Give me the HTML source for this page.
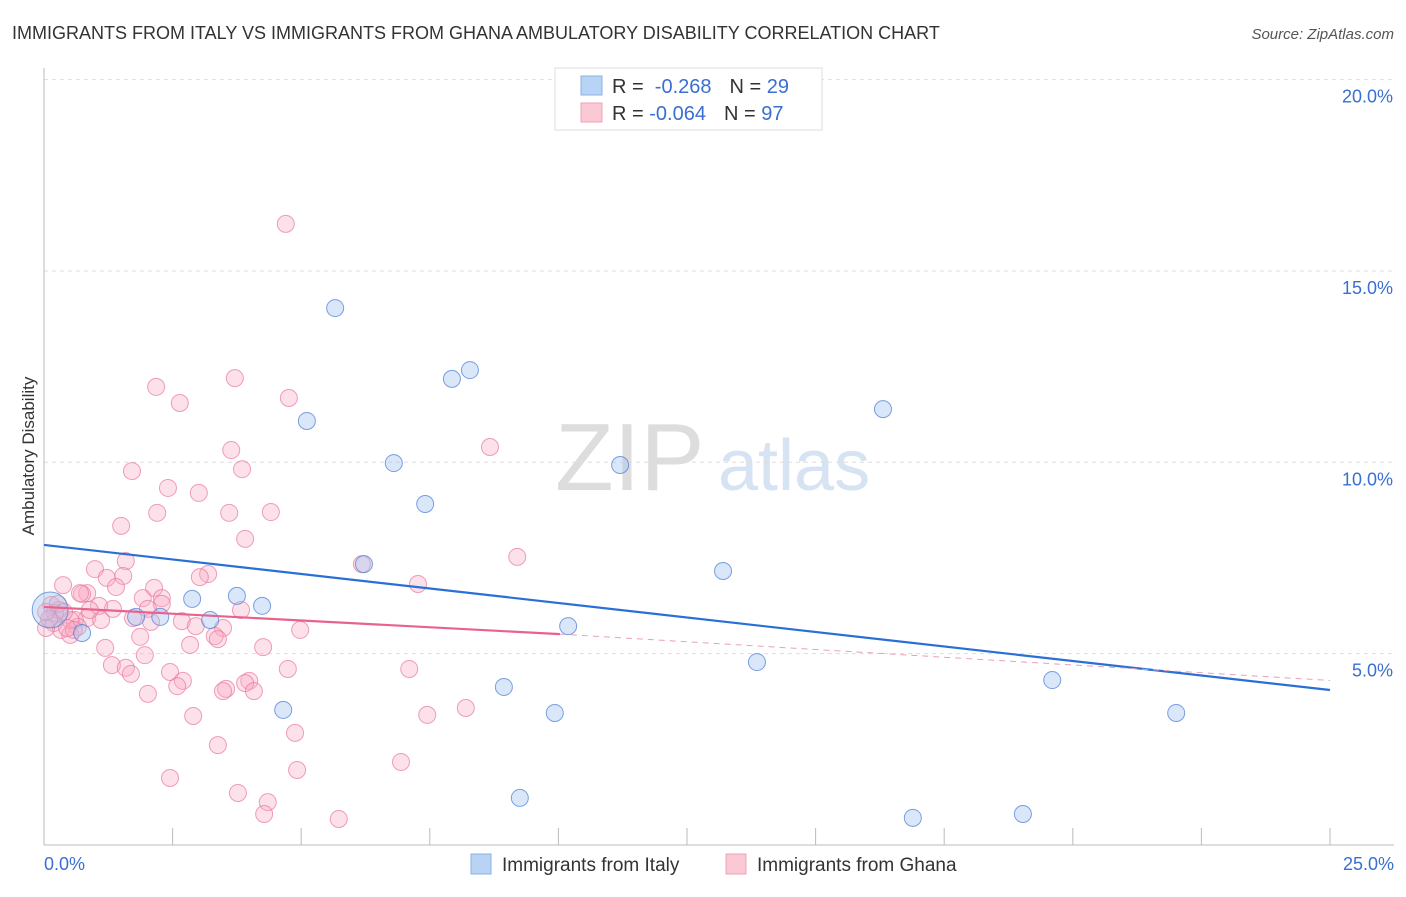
<!DOCTYPE html>
<html><head><meta charset="utf-8"><style>
body{margin:0;background:#fff;font-family:"Liberation Sans",sans-serif}
svg text{font-family:"Liberation Sans",sans-serif}
</style></head><body>
<svg id="chart" width="1406" height="892" xmlns="http://www.w3.org/2000/svg">
<text x="12" y="39" font-size="18" fill="#333">IMMIGRANTS FROM ITALY VS IMMIGRANTS FROM GHANA AMBULATORY DISABILITY CORRELATION CHART</text>
<text x="1394" y="39" font-size="15" fill="#555" font-style="italic" text-anchor="end">Source: ZipAtlas.com</text>
<text x="0" y="0" transform="translate(34,456) rotate(-90)" font-size="17" fill="#333" text-anchor="middle">Ambulatory Disability</text>
<g><text x="555" y="490" font-size="96" fill="#ddd" font-family="Liberation Serif">ZIP</text><text x="718" y="490" font-size="72" fill="#d6e3f3">atlas</text></g>
<g id="grid"></g><g id="axes"></g><g id="marks"></g><g id="lines"></g>
<g>
<rect x="555" y="68" width="267" height="62" fill="#fff" stroke="#ddd"/>
<rect x="581" y="76" width="21" height="19" fill="#b9d3f5" stroke="#8ab0e6"/>
<rect x="581" y="103" width="21" height="19" fill="#fbc8d6" stroke="#f2a0b8"/>
<text x="612" y="93" font-size="20" fill="#333">R = <tspan fill="#3a6fd1">&#160;-0.268</tspan><tspan dx="18">N = </tspan><tspan fill="#3a6fd1">29</tspan></text>
<text x="612" y="120" font-size="20" fill="#333">R = <tspan fill="#3a6fd1">-0.064</tspan><tspan dx="18">N = </tspan><tspan fill="#3a6fd1">97</tspan></text>
</g>
<g>
<rect x="471" y="854" width="20" height="20" fill="#b9d3f5" stroke="#8ab0e6"/>
<text x="502" y="871" font-size="19" fill="#333">Immigrants from Italy</text>
<rect x="726" y="854" width="20" height="20" fill="#fbc8d6" stroke="#f2a0b8"/>
<text x="757" y="871" font-size="19" fill="#333">Immigrants from Ghana</text>
</g>
</svg>
<script>
const xTicks=[0,2.5,5,7.5,10,12.5,15,17.5,20,22.5,25];
const yTicks=[5,10,15,20];
const yTickLabels=["5.0%","10.0%","15.0%","20.0%"];
const xEndLabels=["0.0%","25.0%"];
const italyX=[5.66,8.28,7.93,5.11,16.31,6.80,11.20,7.41,6.22,13.20,2.88,3.75,4.24,1.79,2.26,3.23,10.19,0.74,13.86,19.60,8.94,9.93,22.01,4.65,9.25,16.89,19.03,0.12];
const italyY=[14.03,12.41,12.18,11.08,11.39,9.98,9.93,8.91,7.34,7.16,6.43,6.51,6.25,5.96,5.96,5.88,5.72,5.54,4.78,4.31,4.13,3.45,3.45,3.53,1.23,0.71,0.81,6.14];
const ghanaX=[4.70,2.18,3.71,2.64,4.76,8.67,3.64,1.71,3.85,2.41,3.01,2.20,3.60,4.41,1.50,3.91,9.20,1.59,6.18,0.99,3.19,3.03,1.54,1.22,1.40,0.37,2.14,7.27,0.84,0.74,1.92,2.29,2.29,3.83,2.02,1.34,0.29,0.14,0.21,0.84,1.11,1.73,0.60,0.19,0.66,0.33,0.51,0.04,0.10,2.68,2.08,3.48,2.95,4.98,3.32,3.38,1.87,1.19,2.84,4.26,1.96,1.32,1.59,1.69,4.74,7.10,2.45,2.70,2.59,3.54,3.48,3.99,3.91,4.08,2.02,8.20,7.45,2.90,4.88,3.38,6.94,4.92,2.45,3.77,4.35,4.28,5.73,0.27,0.51,0.39,0.04,1.07,0.70,0.89,0.58,0.45];
const ghanaY=[16.23,11.97,12.20,11.55,11.68,10.40,10.32,9.77,9.82,9.33,9.20,8.68,8.68,8.70,8.34,8.00,7.53,7.42,7.34,7.21,7.08,7.00,7.03,6.98,6.74,6.79,6.72,6.82,6.58,6.56,6.45,6.45,6.30,6.14,6.17,6.17,6.14,6.27,6.06,5.93,5.88,5.93,5.88,5.80,5.70,5.62,5.49,5.67,5.91,5.85,5.83,5.67,5.72,5.62,5.46,5.38,5.44,5.15,5.23,5.17,4.96,4.70,4.63,4.47,4.60,4.60,4.52,4.29,4.15,4.08,4.02,4.29,4.23,4.02,3.95,3.58,3.40,3.37,2.93,2.61,2.17,1.96,1.75,1.36,1.12,0.81,0.68,6.30,5.88,6.09,6.09,6.25,6.58,6.14,5.62,5.67];
const italyFit=[7.84,4.05];
const ghanaFit=[6.22,5.51,4.30];
const ghanaSolidEnd=10.03;

const X=v=>44+v*(1330-44)/25, Y=v=>845-v*38.27;
const NS="http://www.w3.org/2000/svg";
function mk(tag,parent,attrs){const e=document.createElementNS(NS,tag);for(const k in attrs)e.setAttribute(k,attrs[k]);document.getElementById(parent).appendChild(e);return e;}
yTicks.forEach((t,i)=>{
 const g=mk('line','grid',{x1:44,x2:1394,y1:Y(t),y2:Y(t),stroke:'#ddd','stroke-dasharray':'4,4'});
 
 
 const l=mk('text','axes',{x:1393,y:Y(t)+23,'font-size':18,fill:'#3a6fd1','text-anchor':'end'});
 l.textContent=yTickLabels[i];
 
 
});
const ax=mk('line','axes',{x1:44,x2:44,y1:68,y2:845,stroke:'#bbb'});


const bx=mk('line','axes',{x1:44,x2:1394,y1:845,y2:845,stroke:'#bbb'});


xTicks.forEach(t=>{const k=mk('line','axes',{x1:X(t),x2:X(t),y1:828,y2:845,stroke:'#bbb'});
 
 });
[[0,'start',44],[25,'end',1394]].forEach((d,i)=>{const l=mk('text','axes',{x:d[2],y:870,'font-size':18,fill:'#3a6fd1','text-anchor':d[1]});l.textContent=xEndLabels[i];
 
 });
ghanaX.forEach((v,i)=>{const c=mk('circle','marks',{cx:X(v),cy:Y(ghanaY[i]),r:8.5,fill:'rgba(248,170,195,0.35)',stroke:'rgba(232,120,155,0.7)','stroke-width':1});
 
 });
italyX.forEach((v,i)=>{const c=mk('circle','marks',{cx:X(v),cy:Y(italyY[i]),r:i==italyX.length-1?18:8.5,fill:'rgba(160,195,240,0.4)',stroke:'rgba(80,130,215,0.75)','stroke-width':1});
 
 });
const l1=mk('line','lines',{x1:X(0),y1:Y(italyFit[0]),x2:X(25),y2:Y(italyFit[1]),stroke:'#2a6fd6','stroke-width':2.2});


const l2=mk('line','lines',{x1:X(0),y1:Y(ghanaFit[0]),x2:X(ghanaSolidEnd),y2:Y(ghanaFit[1]),stroke:'#e8628e','stroke-width':2.2});


const l3=mk('line','lines',{x1:X(ghanaSolidEnd),y1:Y(ghanaFit[1]),x2:X(25),y2:Y(ghanaFit[2]),stroke:'#e8a0b8','stroke-width':1,'stroke-dasharray':'6,5'});


</script>
</body></html>
